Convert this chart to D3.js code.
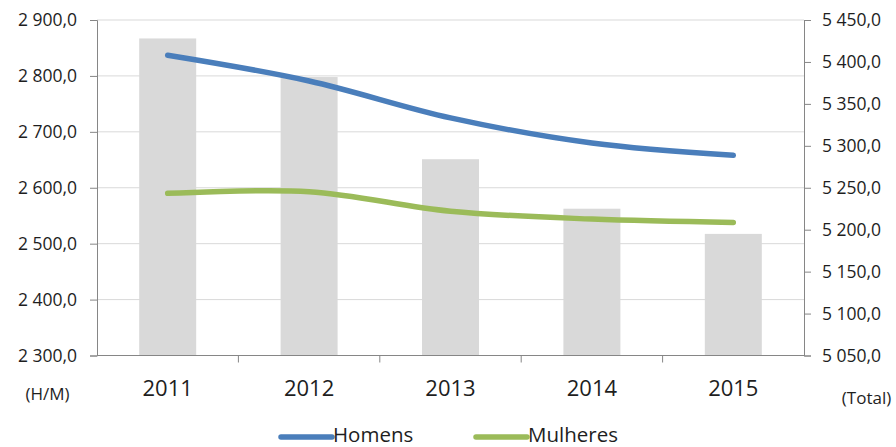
<!DOCTYPE html>
<html lang="pt">
<head>
<meta charset="utf-8">
<script src="https://d3js.org/d3.v7.min.js"></script>
<style>
  body { margin: 0; background: #fff; }
  text { font-family: "Open Sans", "Liberation Sans", sans-serif; fill: #1e1e1e; }
</style>
</head>
<body>
<svg id="chart" width="896" height="447"></svg>
<script>
// data
const years = ["2011", "2012", "2013", "2014", "2015"];
const homens = [2837, 2791, 2725, 2680, 2658];
const mulheres = [2590, 2593, 2558, 2544, 2538];
const total = [5428, 5382, 5284, 5225, 5195];
const leftTicks = [2300, 2400, 2500, 2600, 2700, 2800, 2900];
const rightTicks = [5050, 5100, 5150, 5200, 5250, 5300, 5350, 5400, 5450];

const svg = d3.select("#chart");
const plotL = 97, plotR = 804, plotT = 20, plotB = 355.5;

const x = d3.scaleBand().domain(years).range([plotL, plotR]);
const yL = d3.scaleLinear().domain([2300, 2900]).range([plotB, plotT]);
const yR = d3.scaleLinear().domain([5050, 5450]).range([plotB, plotT]);

const fmt = v => d3.format(".1f")(v).replace(".", ",").replace(/^(\d)(\d{3})/, "$1 $2");

// grid
svg.append("g").selectAll("line").data(leftTicks.slice(1)).join("line")
  .attr("x1", plotL).attr("x2", plotR)
  .attr("y1", d => yL(d)).attr("y2", d => yL(d))
  .attr("stroke", "#d9d9d9").attr("stroke-width", 1);

// bars (total, right axis)
const bw = 57;
svg.append("g").selectAll("rect").data(years).join("rect")
  .attr("x", d => x(d) + x.bandwidth() / 2 - bw / 2)
  .attr("width", bw)
  .attr("y", (d, i) => yR(total[i]))
  .attr("height", (d, i) => plotB - yR(total[i]))
  .attr("fill", "#d9d9d9");

// axes
const axisColor = "#868686";
const gL = svg.append("g").attr("transform", `translate(${plotL},0)`)
  .call(d3.axisLeft(yL).tickValues(leftTicks).tickFormat(fmt).tickSizeOuter(0).tickSize(7).tickPadding(13));
const gR = svg.append("g").attr("transform", `translate(${plotR},0)`)
  .call(d3.axisRight(yR).tickValues(rightTicks).tickFormat(fmt).tickSizeOuter(0).tickSize(7).tickPadding(11));
[gL, gR].forEach(g => {
  g.select(".domain").attr("stroke", axisColor);
  g.selectAll(".tick line").attr("stroke", axisColor);
  g.selectAll("text").style("font-size", "17.5px").attr("fill", "#1e1e1e");
});

// x axis
svg.append("line").attr("x1", plotL).attr("x2", plotR).attr("y1", plotB).attr("y2", plotB)
  .attr("stroke", axisColor);
svg.append("g").selectAll("line").data(years.slice(1)).join("line")
  .attr("x1", d => x(d)).attr("x2", d => x(d))
  .attr("y1", plotB).attr("y2", plotB + 7)
  .attr("stroke", axisColor);
svg.append("g").selectAll("text").data(years).join("text")
  .attr("x", d => x(d) + x.bandwidth() / 2)
  .attr("y", 396)
  .attr("text-anchor", "middle")
  .style("font-size", "22px")
  .text(d => d);

svg.append("text").attr("x", 47.5).attr("y", 400).attr("text-anchor", "middle")
  .style("font-size", "17px").text("(H/M)");
svg.append("text").attr("x", 866.5).attr("y", 404).attr("text-anchor", "middle")
  .style("font-size", "17px").text("(Total)");

// lines
const line = arr => d3.line()
  .x((d, i) => x(years[i]) + x.bandwidth() / 2)
  .y(d => yL(d))
  .curve(d3.curveCatmullRom.alpha(0.5))(arr);

const series = [
  { name: "Homens", values: homens, color: "#4a7ebb" },
  { name: "Mulheres", values: mulheres, color: "#9bbb59" }
];
svg.append("g").selectAll("path").data(series).join("path")
  .attr("d", d => line(d.values))
  .attr("fill", "none")
  .attr("stroke", d => d.color)
  .attr("stroke-width", 5.5)
  .attr("stroke-linecap", "round");

// legend
const legX = [281, 476];
const leg = svg.append("g").selectAll("g").data(series).join("g")
  .attr("transform", (d, i) => `translate(${legX[i]},437)`);
leg.append("line").attr("x1", 0).attr("x2", 51).attr("y1", 0).attr("y2", 0)
  .attr("stroke", d => d.color).attr("stroke-width", 5.5).attr("stroke-linecap", "round");
leg.append("text").attr("x", 52).attr("y", 5).style("font-size", "20.5px").text(d => d.name);
</script>
</body>
</html>
